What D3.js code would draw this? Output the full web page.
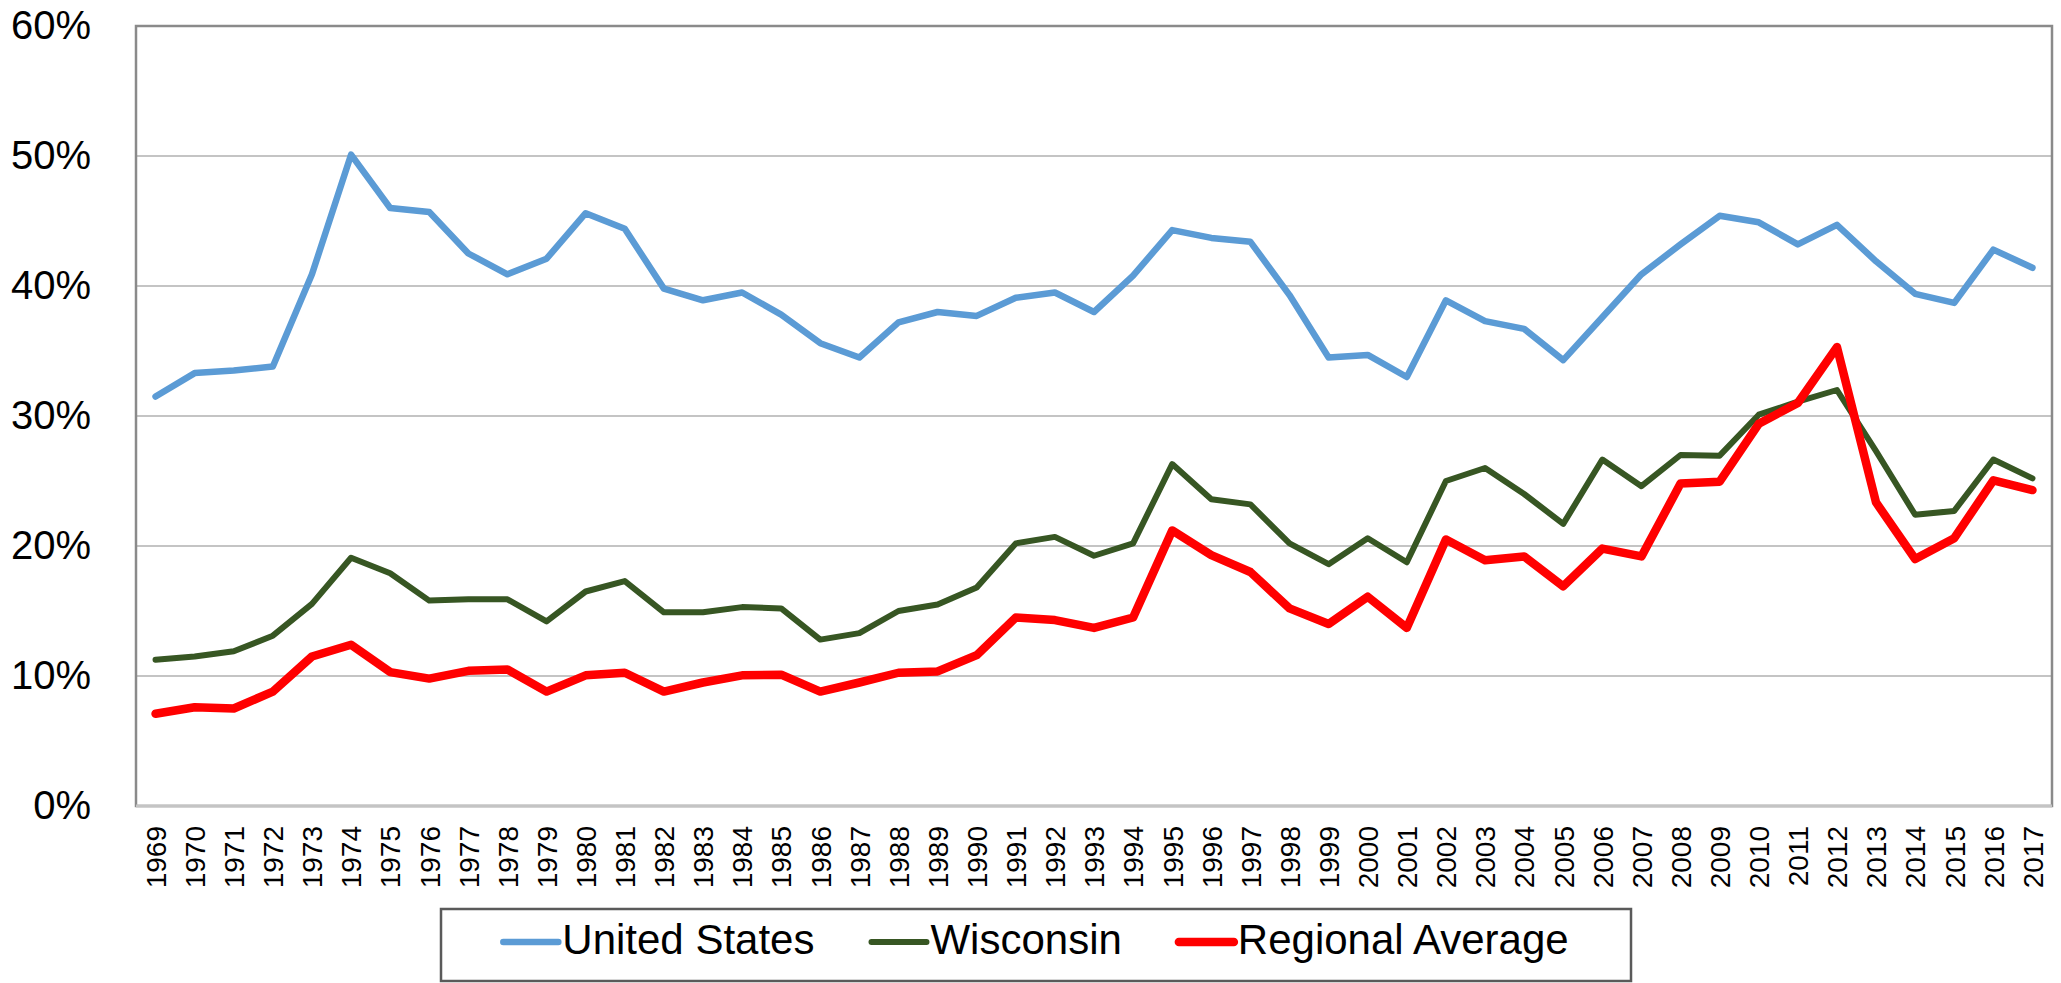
<!DOCTYPE html>
<html>
<head>
<meta charset="utf-8">
<script src="https://cdn.jsdelivr.net/npm/d3@7"></script>
<style>
  body { margin: 0; background: #fff; }
  text { font-family: "Liberation Sans", Arial, sans-serif; fill: #000; }
</style>
</head>
<body>
<svg id="chart"></svg>
<script>
var years = ["1969","1970","1971","1972","1973","1974","1975","1976","1977","1978",
  "1979","1980","1981","1982","1983","1984","1985","1986","1987","1988",
  "1989","1990","1991","1992","1993","1994","1995","1996","1997","1998",
  "1999","2000","2001","2002","2003","2004","2005","2006","2007","2008",
  "2009","2010","2011","2012","2013","2014","2015","2016","2017"];

var unitedStates = [31.5,33.3,33.5,33.8,40.9,50.1,46.0,45.7,42.5,40.9,
  42.1,45.6,44.4,39.8,38.9,39.5,37.8,35.6,34.5,37.2,
  38.0,37.7,39.1,39.5,38.0,40.8,44.3,43.7,43.4,39.3,
  34.5,34.7,33.0,38.9,37.3,36.7,34.3,37.6,40.9,43.2,
  45.4,44.9,43.2,44.7,41.9,39.4,38.7,42.8,41.4];

var wisconsin = [11.25,11.5,11.9,13.1,15.55,19.1,17.9,15.8,15.9,15.9,
  14.2,16.5,17.3,14.9,14.9,15.3,15.2,12.8,13.3,15.0,
  15.5,16.8,20.2,20.7,19.25,20.2,26.3,23.6,23.2,20.2,
  18.6,20.6,18.75,25.0,26.0,24.0,21.7,26.65,24.6,27.0,
  26.95,30.1,31.1,32.0,27.3,22.4,22.7,26.65,25.2];

var regionalAverage = [7.1,7.6,7.5,8.8,11.5,12.4,10.3,9.8,10.4,10.5,
  8.8,10.05,10.25,8.8,9.5,10.05,10.1,8.8,9.5,10.25,
  10.35,11.6,14.5,14.3,13.7,14.5,21.2,19.3,18.0,15.2,
  14.0,16.1,13.7,20.5,18.9,19.2,16.9,19.8,19.2,24.8,
  24.95,29.4,31.0,35.3,23.35,19.0,20.6,25.05,24.3];

var yTicks = [0, 10, 20, 30, 40, 50, 60];

var seriesNames = ["United States", "Wisconsin", "Regional Average"];
var seriesColors = ["#5B9BD5", "#375623", "#FF0000"];
var seriesWidths = [6.5, 6, 8.5];

var width = 2061;
var height = 983;
var plot = { left: 136, right: 2052, top: 26, bottom: 806 };

var svg = d3.select("#chart")
  .attr("width", width)
  .attr("height", height);

var x = d3.scalePoint()
  .domain(years)
  .range([plot.left, plot.right])
  .padding(0.5);

var y = d3.scaleLinear()
  .domain([0, 60])
  .range([plot.bottom, plot.top]);

// gridlines
svg.append("g")
  .selectAll("line")
  .data(yTicks.filter(function(d) { return d > 0 && d < 60; }))
  .enter()
  .append("line")
  .attr("x1", plot.left)
  .attr("x2", plot.right)
  .attr("y1", function(d) { return y(d); })
  .attr("y2", function(d) { return y(d); })
  .attr("stroke", "#c4c4c4")
  .attr("stroke-width", 2);

// plot frame
svg.append("rect")
  .attr("x", plot.left)
  .attr("y", plot.top)
  .attr("width", plot.right - plot.left)
  .attr("height", plot.bottom - plot.top)
  .attr("fill", "none")
  .attr("stroke", "#8a8a8a")
  .attr("stroke-width", 2.5);

svg.append("line")
  .attr("x1", plot.left)
  .attr("x2", plot.right)
  .attr("y1", plot.bottom)
  .attr("y2", plot.bottom)
  .attr("stroke", "#c4c4c4")
  .attr("stroke-width", 3);

// y axis labels
var yAxis = svg.append("g")
  .attr("transform", "translate(" + (plot.left - 45) + ",0)")
  .call(d3.axisLeft(y).tickValues(yTicks).tickSize(0).tickPadding(0)
    .tickFormat(function(d) { return d + "%"; }));
yAxis.select(".domain").remove();
yAxis.selectAll("text")
  .attr("font-size", 40)
  .attr("font-family", "Liberation Sans, Arial, sans-serif")
  .attr("fill", "#000");

// x axis labels
var xAxis = svg.append("g")
  .attr("transform", "translate(0," + plot.bottom + ")")
  .call(d3.axisBottom(x).tickSize(0).tickPadding(0));
xAxis.select(".domain").remove();
xAxis.selectAll("text")
  .attr("font-size", 28)
  .attr("font-family", "Liberation Sans, Arial, sans-serif")
  .attr("fill", "#000")
  .attr("text-anchor", "end")
  .attr("transform", "rotate(-90)")
  .attr("x", -20)
  .attr("y", 0)
  .attr("dy", "0.35em");

// lines
var line = d3.line()
  .x(function(d, i) { return x(years[i]); })
  .y(function(d) { return y(d); });

var allSeries = [unitedStates, wisconsin, regionalAverage];

svg.append("g")
  .selectAll("path")
  .data(allSeries)
  .enter()
  .append("path")
  .attr("d", function(d) { return line(d); })
  .attr("fill", "none")
  .attr("stroke", function(d, i) { return seriesColors[i]; })
  .attr("stroke-width", function(d, i) { return seriesWidths[i]; })
  .attr("stroke-linejoin", "round")
  .attr("stroke-linecap", "round");

// legend
var legendBox = { x: 441, y: 909, w: 1190, h: 72 };
svg.append("rect")
  .attr("x", legendBox.x)
  .attr("y", legendBox.y)
  .attr("width", legendBox.w)
  .attr("height", legendBox.h)
  .attr("fill", "#fff")
  .attr("stroke", "#5a5a5a")
  .attr("stroke-width", 2.5);

var legend = svg.append("g");
var items = legend.selectAll("g")
  .data(seriesNames)
  .enter()
  .append("g");

items.append("line")
  .attr("x1", 0)
  .attr("x2", 55)
  .attr("y1", 0)
  .attr("y2", 0)
  .attr("stroke", function(d, i) { return seriesColors[i]; })
  .attr("stroke-width", function(d, i) { return seriesWidths[i]; })
  .attr("stroke-linecap", "round");

items.append("text")
  .attr("x", 59)
  .attr("y", 12)
  .attr("font-size", 42)
  .text(function(d) { return d; });

var offsets = [];
var cursor = 0;
items.each(function() {
  offsets.push(cursor);
  cursor += 59 + d3.select(this).select("text").node().getComputedTextLength() + 57;
});
var total = cursor - 57;
var startX = legendBox.x + (legendBox.w - total) / 2;
items.attr("transform", function(d, i) {
  return "translate(" + (startX + offsets[i]) + ",942)";
});
</script>
</body>
</html>
